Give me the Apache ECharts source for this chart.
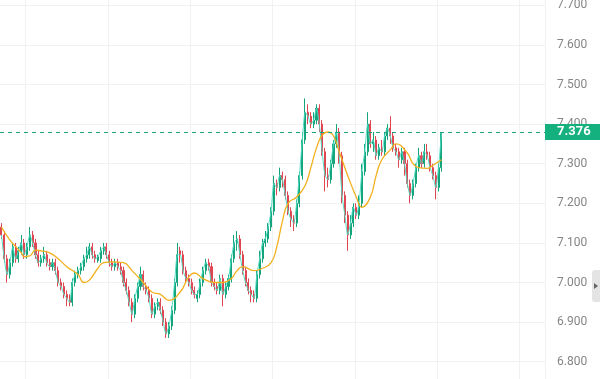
<!DOCTYPE html>
<html>
<head>
<meta charset="utf-8">
<script src="https://cdn.jsdelivr.net/npm/echarts@6/dist/echarts.min.js"></script>
<style>html,body{margin:0;padding:0;background:#fff}#c{width:600px;height:379px}</style>
</head>
<body>
<div id="c"></div>
<script>
// ---- data ----
const slotCount = 192; // candle slots incl. empty space to the right
const opens  = [7.14,7.12,7.06,7.02,7.05,7.09,7.06,7.08,7.10,7.07,7.09,7.12,7.10,7.07,7.05,7.06,7.07,7.05,7.04,7.05,
 7.03,7.00,6.99,6.97,6.96,6.95,7.00,7.02,7.03,7.04,7.06,7.07,7.09,7.07,7.055,7.06,7.08,7.09,7.07,7.05,
 7.04,7.05,7.04,7.03,7.00,6.98,6.95,6.92,6.96,6.99,7.02,6.99,6.98,6.96,6.92,6.94,6.95,6.93,6.90,6.87,
 6.89,6.93,7.00,7.08,7.07,7.03,7.01,7.00,6.98,6.96,6.97,7.00,7.03,7.05,7.04,7.00,6.99,6.98,7.01,6.97,
 6.99,7.01,7.06,7.10,7.11,7.07,7.03,7.00,6.98,6.97,6.96,7.02,7.06,7.10,7.11,7.14,7.18,7.25,7.24,7.27,
 7.26,7.22,7.18,7.16,7.15,7.20,7.27,7.36,7.43,7.42,7.40,7.41,7.44,7.40,7.33,7.27,7.26,7.30,7.35,7.38,
 7.32,7.22,7.17,7.12,7.15,7.19,7.17,7.20,7.28,7.33,7.40,7.35,7.36,7.32,7.34,7.33,7.37,7.39,7.37,7.34,
 7.33,7.31,7.33,7.30,7.25,7.22,7.25,7.29,7.32,7.30,7.33,7.32,7.29,7.27,7.24,7.29];
const closes = [7.12,7.06,7.02,7.05,7.09,7.06,7.08,7.10,7.07,7.09,7.12,7.10,7.07,7.05,7.06,7.07,7.05,7.04,7.05,7.03,
 7.00,6.99,6.97,6.96,6.95,7.00,7.02,7.03,7.04,7.06,7.07,7.09,7.07,7.06,7.065,7.08,7.09,7.07,7.05,7.04,
 7.05,7.04,7.03,7.00,6.98,6.95,6.92,6.96,6.99,7.02,6.99,6.98,6.96,6.92,6.94,6.95,6.93,6.90,6.87,6.89,
 6.93,7.00,7.07,7.07,7.03,7.01,7.00,6.98,6.97,6.97,7.00,7.03,7.05,7.04,7.00,6.99,6.98,7.01,6.97,6.99,
 7.01,7.06,7.10,7.11,7.07,7.03,7.00,6.98,6.97,6.96,7.02,7.06,7.10,7.11,7.14,7.18,7.25,7.24,7.27,7.26,
 7.22,7.18,7.16,7.15,7.20,7.27,7.36,7.43,7.42,7.40,7.41,7.44,7.40,7.33,7.27,7.26,7.30,7.35,7.38,7.32,
 7.22,7.17,7.12,7.15,7.19,7.17,7.20,7.28,7.33,7.40,7.35,7.36,7.32,7.34,7.33,7.37,7.39,7.37,7.34,7.33,
 7.31,7.33,7.30,7.25,7.22,7.25,7.29,7.32,7.30,7.33,7.32,7.29,7.27,7.24,7.29,7.376];
const lows   = [7.11,7.05,7.00,7.01,7.04,7.05,7.05,7.07,7.06,7.06,7.08,7.09,7.06,7.04,7.04,7.05,7.04,7.03,7.03,7.02,
 6.99,6.98,6.96,6.94,6.94,6.94,6.99,7.01,7.02,7.03,7.05,7.06,7.06,7.05,7.05,7.05,7.07,7.06,7.04,7.03,
 7.03,7.03,7.02,6.99,6.97,6.94,6.90,6.91,6.95,6.98,6.98,6.97,6.95,6.91,6.91,6.93,6.92,6.89,6.86,6.86,
 6.88,6.92,6.99,7.05,7.02,7.00,6.99,6.97,6.96,6.95,6.96,6.99,7.02,7.03,6.99,6.98,6.97,6.97,6.94,6.96,
 6.98,7.00,7.05,7.08,7.06,7.02,6.99,6.97,6.95,6.95,6.95,7.01,7.05,7.09,7.10,7.13,7.17,7.22,7.23,7.24,
 7.21,7.17,7.14,7.13,7.14,7.19,7.26,7.35,7.40,7.39,7.39,7.40,7.38,7.32,7.23,7.24,7.25,7.29,7.34,7.30,
 7.20,7.15,7.08,7.11,7.14,7.16,7.16,7.19,7.27,7.32,7.34,7.33,7.31,7.31,7.32,7.32,7.36,7.35,7.33,7.32,
 7.29,7.30,7.27,7.24,7.20,7.21,7.24,7.28,7.29,7.29,7.31,7.28,7.26,7.21,7.23,7.28];
const highs  = [7.15,7.13,7.07,7.06,7.10,7.10,7.09,7.12,7.11,7.10,7.14,7.13,7.11,7.08,7.07,7.09,7.08,7.06,7.06,7.06,
 7.04,7.01,7.00,6.98,6.97,7.01,7.03,7.04,7.05,7.07,7.09,7.10,7.10,7.08,7.07,7.09,7.10,7.10,7.08,7.06,
 7.06,7.06,7.05,7.04,7.01,6.99,6.96,6.97,7.00,7.04,7.03,7.00,6.99,6.97,6.95,6.96,6.96,6.94,6.91,6.90,
 6.94,7.01,7.10,7.09,7.08,7.04,7.02,7.01,6.99,6.98,7.01,7.04,7.06,7.06,7.05,7.01,7.00,7.02,7.02,7.00,
 7.02,7.07,7.12,7.13,7.12,7.08,7.04,7.01,6.99,6.98,7.03,7.08,7.11,7.13,7.15,7.19,7.27,7.26,7.29,7.28,
 7.27,7.23,7.19,7.17,7.21,7.28,7.38,7.465,7.45,7.43,7.43,7.45,7.45,7.41,7.34,7.29,7.31,7.36,7.40,7.39,
 7.33,7.23,7.18,7.17,7.20,7.20,7.22,7.30,7.35,7.43,7.41,7.38,7.37,7.35,7.36,7.38,7.40,7.42,7.38,7.35,
 7.34,7.34,7.34,7.31,7.26,7.26,7.30,7.34,7.33,7.35,7.35,7.33,7.30,7.28,7.30,7.38];
// slow average line, read as [slot index, value]
const avgPoints = [[0,7.14],[3,7.107],[7,7.075],[8,7.065],[10,7.067],[12,7.082],[14,7.08],[17,7.075],[20,7.06],
 [23,7.04],[27,7.02],[29,7.00],[31,7.006],[34,7.036],[36,7.05],[39,7.052],[43,7.05],[46,7.03],[50,7.00],
 [53,6.976],[56,6.97],[59,6.955],[63,6.976],[66,7.014],[68,7.024],[71,7.01],[75,7.00],[78,7.00],[81,7.01],
 [83,7.03],[85,7.04],[89,7.03],[92,7.036],[95,7.05],[97,7.09],[99,7.155],[101,7.20],[104,7.216],[107,7.245],
 [109,7.29],[111,7.34],[113,7.372],[115,7.38],[117,7.37],[119,7.33],[122,7.27],[125,7.216],[127,7.19],
 [130,7.216],[132,7.27],[134,7.31],[137,7.335],[139,7.35],[143,7.327],[145,7.30],[147,7.29],[150,7.288],
 [152,7.296],[155,7.31]];
const lastPrice = 7.376;
const yTicks = {min: 6.7, max: 7.8, step: 0.1};

// ---- chart ----
const categories = Array.from({length: slotCount}, (_, i) => String(i));
const candles = opens.map((o, i) => [o, closes[i], lows[i], highs[i]]);

const chart = echarts.init(document.getElementById('c'), null, {renderer: 'canvas'});
chart.setOption({
  animation: false,
  backgroundColor: '#ffffff',
  grid: {left: 0, right: 55, top: -34.3, bottom: -22.3, containLabel: false, outerBoundsMode: 'none'},
  xAxis: {
    type: 'category', data: categories, boundaryGap: true,
    axisLine: {show: false}, axisTick: {show: false}, axisLabel: {show: false},
    splitLine: {show: true, interval: (idx) => idx >= 9 && (idx - 9) % 29 === 0,
      lineStyle: {color: '#eef2f2', width: 1}}
  },
  yAxis: {
    type: 'value', position: 'right', min: yTicks.min, max: yTicks.max, interval: yTicks.step,
    axisLine: {show: true, lineStyle: {color: '#eef1f1'}}, axisTick: {show: false},
    axisLabel: {margin: 12, color: '#858585', fontSize: 12, fontFamily: 'Roboto, sans-serif',
      formatter: v => v.toFixed(3)},
    splitLine: {show: true, lineStyle: {color: '#f1f3f3'}}
  },
  series: [
    {
      type: 'candlestick', data: candles, barWidth: '55%',
      itemStyle: {color: '#15a57d', color0: '#e04552', borderColor: '#15a57d', borderColor0: '#e04552', borderWidth: 1},
      markLine: {
        symbol: ['none', 'none'], silent: true,
        lineStyle: {color: '#17a57c', type: [4, 4], width: 1},
        label: {show: true, position: 'end', distance: 0, formatter: lastPrice.toFixed(3),
          backgroundColor: '#14b17f', color: '#ffffff', fontSize: 13, fontWeight: 'bold',
          fontFamily: 'Roboto, sans-serif', padding: [2, 15, 1, 12]},
        data: [{yAxis: lastPrice}]
      }
    },
    {
      type: 'line', data: closes, showSymbol: false, smooth: 0.2,
      lineStyle: {color: '#4fdcc4', width: 1}, z: 3
    },
    {
      type: 'line', data: avgPoints, showSymbol: false, smooth: true,
      lineStyle: {color: '#f2b01e', width: 1.3}, z: 4
    }
  ],
  graphic: [
    {type: 'rect', left: 592, top: 270, shape: {width: 8, height: 32, r: [3, 0, 0, 3]}, style: {fill: '#e4e4e4'}},
    {type: 'polygon', shape: {points: [[594, 283], [598, 286], [594, 289]]}, style: {fill: '#666'}}
  ]
});
</script>
</body>
</html>
